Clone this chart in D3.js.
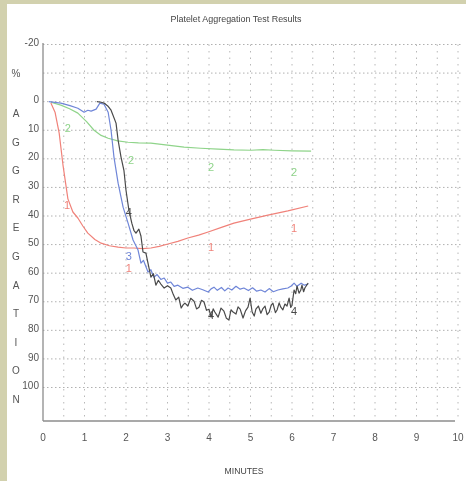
<!DOCTYPE html>
<html><head><meta charset="utf-8">
<script src="https://cdn.jsdelivr.net/npm/d3@7"></script>
<style>html,body{margin:0;padding:0;background:#fff;}svg{display:block;}</style>
</head><body>
<script>
// ---- data (t in minutes, v in % aggregation) ----
const titleText = "Platelet Aggregation Test Results";
const xLabel = "MINUTES";
const yLetters = ["A","G","G","R","E","G","A","T","I","O","N"];
const xTicks = [0,1,2,3,4,5,6,7,8,9,10];
const yTicks = [-20,0,10,20,30,40,50,60,70,80,90,100];

const curve1 = [[0.19,0.5],[0.29,3.7],[0.39,11],[0.48,22],[0.60,34],[0.72,38.6],[0.84,40.7],[0.96,43.5],[1.08,46],[1.25,48.2],[1.40,49.5],[1.6,50.4],[1.81,50.9],[2.0,51.2],[2.19,51.2],[2.4,51.4],[2.60,51.2],[2.8,50.6],[3.01,49.8],[3.25,48.9],[3.49,47.7],[3.75,46.7],[3.98,45.6],[4.3,44],[4.60,42.5],[5.0,41.1],[5.42,39.7],[5.9,38.2],[6.39,36.5]];
const curve2 = [[0.19,0.2],[0.43,1.2],[0.64,2.5],[0.84,4],[1.05,7],[1.23,10],[1.4,11.8],[1.57,12.8],[1.8,13.7],[2.05,14.2],[2.3,14.4],[2.60,14.5],[3.0,15.2],[3.40,15.9],[3.8,16.3],[4.22,16.6],[4.6,16.9],[5.01,17],[5.3,16.8],[5.57,17],[6.0,17.2],[6.46,17.3]];
const curve3 = [[0.14,0],[0.43,0.5],[0.65,1.4],[0.84,2.3],[0.99,3.7],[1.08,3.0],[1.16,3.3],[1.28,2.6],[1.37,0.5],[1.47,0.9],[1.57,3.7],[1.64,10],[1.71,19.4],[1.81,28.5],[1.93,36.9],[2.05,42.5],[2.17,48.4],[2.29,51.9],[2.36,56.5],[2.42,55.5],[2.53,59.6],[2.6,58.8],[2.67,61.4],[2.75,60.5],[2.84,62.2],[2.92,61.7],[3.0,63.5],[3.08,63.1],[3.16,64.6],[3.25,64.2],[3.37,65.3],[3.49,64.9],[3.6,66],[3.73,65.2],[3.85,65.8],[3.98,66.6],[4.05,65.5],[4.12,64.9],[4.2,66],[4.3,65],[4.38,66.2],[4.46,65.2],[4.55,65.9],[4.65,64.6],[4.75,65.6],[4.84,65.2],[4.95,66.1],[5.05,65.1],[5.15,66.3],[5.25,65.9],[5.35,66.6],[5.45,65.4],[5.55,66.5],[5.66,65.9],[5.78,65.5],[5.90,65.2],[5.98,64.5],[6.05,63.5],[6.12,64.6],[6.22,63.5],[6.3,64.2],[6.39,63.8]];
const curve4 = [[1.30,0],[1.40,0.2],[1.47,0.5],[1.56,1.5],[1.64,3],[1.76,7.5],[1.81,13.5],[1.88,19.4],[1.95,24],[2.0,31],[2.07,38],[2.14,42.5],[2.19,45],[2.24,46],[2.31,44.6],[2.36,47],[2.41,52.6],[2.48,53],[2.53,56.5],[2.60,61.4],[2.66,60.2],[2.72,64.2],[2.78,62.5],[2.84,63.8],[2.92,65.2],[3.0,64.4],[3.08,65.2],[3.14,67.5],[3.2,69.4],[3.27,68.4],[3.33,72.2],[3.38,71],[3.42,70.5],[3.49,71.5],[3.56,68.8],[3.64,69.8],[3.7,72.5],[3.76,71.9],[3.82,69.5],[3.88,70.1],[3.94,73],[4.0,72.6],[4.05,75.4],[4.1,72.5],[4.14,73.6],[4.22,75.4],[4.29,72.2],[4.36,73.3],[4.42,75.8],[4.48,76.4],[4.53,72.8],[4.58,73.6],[4.65,74.3],[4.7,71.8],[4.75,72.6],[4.82,75.7],[4.88,73.2],[4.94,71.9],[4.99,68.7],[5.04,73.6],[5.09,75],[5.13,72.6],[5.19,71.5],[5.25,74],[5.3,72.4],[5.35,71.5],[5.4,74.5],[5.45,73.6],[5.5,71.2],[5.54,70.5],[5.6,73.8],[5.64,72.9],[5.69,70.4],[5.73,71.9],[5.78,72.8],[5.83,70.8],[5.88,71.5],[5.93,68.7],[5.97,72],[6.0,71.2],[6.05,65.9],[6.09,67.2],[6.12,64.5],[6.17,67],[6.21,66],[6.24,64.2],[6.28,66.5],[6.31,65.2],[6.35,64.3],[6.39,63.5]];

const labels1 = [[0.58,36.2],[2.07,58.2],[4.05,50.9],[6.05,44.2]];
const labels2 = [[0.60,9.3],[2.12,20.5],[4.05,22.9],[6.05,24.7]];
const labels3 = [[2.07,54]];
const labels4 = [[2.07,38.6],[4.05,74.7],[6.05,73.3]];

// ---- drawing ----
const W = 466, H = 481;
const svg = d3.select("body").append("svg").attr("width", W).attr("height", H);
const defs = svg.append("defs");
defs.append("filter").attr("id", "soft").attr("x", "-5%").attr("y", "-5%").attr("width", "110%").attr("height", "110%")
  .append("feGaussianBlur").attr("stdDeviation", 0.45);

// frame
svg.append("rect").attr("width", W).attr("height", H).attr("fill", "#d2d1ae");
svg.append("rect").attr("x", 7).attr("y", 4).attr("width", W - 7).attr("height", H - 4).attr("fill", "#ffffff");

const root = svg.append("g").attr("filter", "url(#soft)");

const x = d3.scaleLinear().domain([0, 10]).range([43, 458]);
const y = d3.scaleLinear().domain([-20, 100]).range([44.5, 387.5]);
const yBottom = 421;

// grid
const grid = root.append("g");
grid.selectAll("line.h").data(d3.range(-20, 101, 10)).join("line")
  .attr("x1", x(0)).attr("x2", 461)
  .attr("y1", d => y(d)).attr("y2", d => y(d))
  .attr("stroke", "#b0b0b0").attr("stroke-width", 1)
  .attr("stroke-dasharray", "1.5,2.5");
grid.selectAll("line.v").data(d3.range(0.5, 10.01, 0.5)).join("line")
  .attr("x1", d => x(d)).attr("x2", d => x(d))
  .attr("y1", y(-20)).attr("y2", yBottom)
  .attr("stroke", "#b8b8b8").attr("stroke-width", 1)
  .attr("stroke-dasharray", "1.5,5");

// axes lines
root.append("line").attr("x1", x(0)).attr("x2", x(0)).attr("y1", 43).attr("y2", yBottom)
  .attr("stroke", "#8c8c8c").attr("stroke-width", 1.3);
root.append("line").attr("x1", x(0)).attr("x2", 455).attr("y1", yBottom).attr("y2", yBottom)
  .attr("stroke", "#8c8c8c").attr("stroke-width", 1.3);

const font = "'Liberation Sans', Arial, sans-serif";

// y tick labels
root.append("g").selectAll("text").data(yTicks).join("text")
  .attr("x", 39).attr("y", d => y(d) - 1)
  .attr("text-anchor", "end").attr("dominant-baseline", "middle")
  .attr("font-family", font).attr("font-size", 10).attr("fill", "#555")
  .text(d => d);

// x tick labels
root.append("g").selectAll("text").data(xTicks).join("text")
  .attr("x", d => x(d)).attr("y", 441)
  .attr("text-anchor", "middle")
  .attr("font-family", font).attr("font-size", 10).attr("fill", "#555")
  .text(d => d);

// vertical letters
root.append("text").attr("x", 16).attr("y", y(-10) + 4).attr("text-anchor", "middle")
  .attr("font-family", font).attr("font-size", 10).attr("fill", "#555").text("%");
root.append("g").selectAll("text").data(yLetters).join("text")
  .attr("x", 16).attr("y", (d, i) => y(4 + 10 * i) + 4)
  .attr("text-anchor", "middle")
  .attr("font-family", font).attr("font-size", 10).attr("fill", "#555")
  .text(d => d);

// title + x label
root.append("text").attr("x", 236).attr("y", 22).attr("text-anchor", "middle")
  .attr("font-family", font).attr("font-size", 9.5).attr("fill", "#444")
  .attr("textLength", 131).attr("lengthAdjust", "spacingAndGlyphs")
  .text(titleText);
root.append("text").attr("x", 244).attr("y", 474).attr("text-anchor", "middle")
  .attr("font-family", font).attr("font-size", 9).attr("fill", "#444")
  .attr("textLength", 39).attr("lengthAdjust", "spacingAndGlyphs")
  .text(xLabel);

// curves
const line = d3.line().x(d => x(d[0])).y(d => y(d[1]));
const series = [
  {data: curve2, color: "#8fd48a", labels: labels2, name: "2"},
  {data: curve1, color: "#f0827a", labels: labels1, name: "1"},
  {data: curve3, color: "#6f86d8", labels: labels3, name: "3"},
  {data: curve4, color: "#4a4a4a", labels: labels4, name: "4"}
];
series.forEach(s => {
  root.append("path").attr("d", line(s.data)).attr("fill", "none")
    .attr("stroke", s.color).attr("stroke-width", 1.2).attr("stroke-linejoin", "round");
});
series.forEach(s => {
  root.append("g").selectAll("text").data(s.labels).join("text")
    .attr("x", d => x(d[0])).attr("y", d => y(d[1]) + 4)
    .attr("text-anchor", "middle")
    .attr("font-family", font).attr("font-size", 11).attr("fill", s.color)
    .text(s.name);
});
</script>
</body></html>
